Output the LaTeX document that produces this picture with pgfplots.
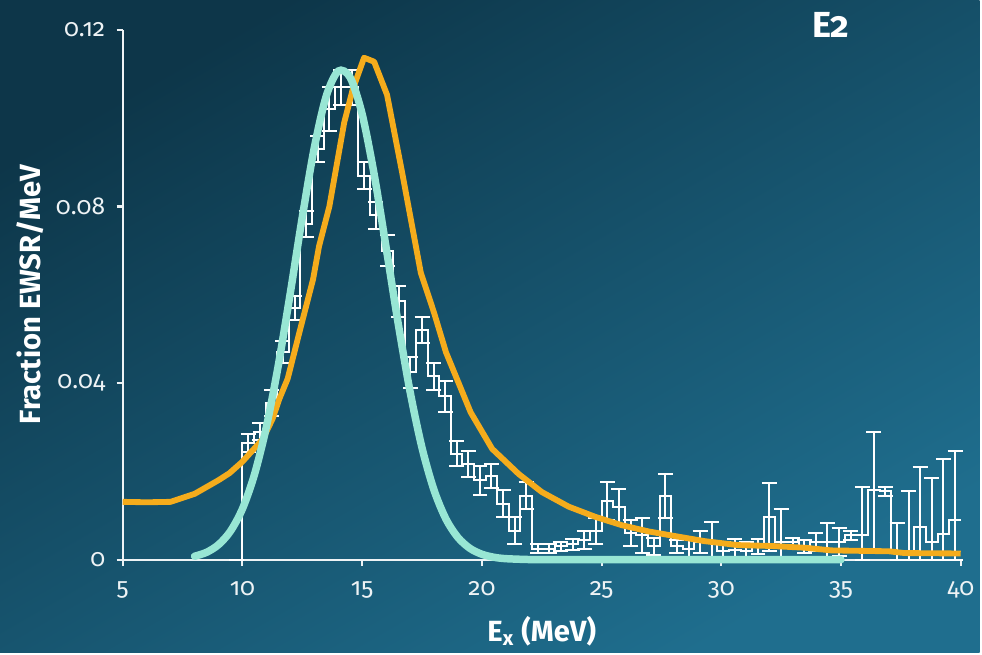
\documentclass[border=0pt]{standalone}
\usepackage{fontspec}
\setmainfont{Fira Sans}[Numbers=OldStyle]
\usepackage{pgfplots}
\pgfplotsset{compat=1.18}
\usepackage{pgfplotstable}
\definecolor{bgA}{HTML}{0D3649}
\definecolor{bgB}{HTML}{1F6E8E}
\definecolor{mint}{HTML}{98E6D4}
\definecolor{gold}{HTML}{F5AC1C}
\definecolor{tickc}{HTML}{EEF3F5}

% histogram: left bin edge, value, upper error, lower error
\pgfplotstableread{
x y e em
9.52 0 0 0
10.00 0.0265 0.0020 0.0020
10.48 0.0290 0.0020 0.0020
10.97 0.0355 0.0030 0.0030
11.45 0.0470 0.0025 0.0025
11.94 0.0570 0.0028 0.0028
12.42 0.0760 0.0030 0.0030
12.90 0.0930 0.0030 0.0030
13.39 0.1020 0.0050 0.0050
13.87 0.1070 0.0040 0.0040
14.35 0.1070 0.0040 0.0040
14.84 0.0870 0.0030 0.0030
15.32 0.0780 0.0030 0.0030
15.81 0.0700 0.0035 0.0035
16.29 0.0585 0.0035 0.0035
16.77 0.0425 0.0035 0.0035
17.26 0.0520 0.0030 0.0030
17.74 0.0415 0.0030 0.0030
18.23 0.0370 0.0035 0.0035
18.71 0.0240 0.0028 0.0028
19.19 0.0217 0.0030 0.0030
19.68 0.0180 0.0033 0.0033
20.16 0.0190 0.0027 0.0027
20.65 0.0127 0.0030 0.0030
21.13 0.0066 0.0030 0.0030
21.61 0.0145 0.0030 0.0030
22.10 0.0025 0.0010 0.0010
22.58 0.0025 0.0010 0.0010
23.06 0.0030 0.0010 0.0010
23.55 0.0035 0.0012 0.0012
24.03 0.0045 0.0020 0.0020
24.52 0.0065 0.0030 0.0030
25.00 0.0133 0.0043 0.0043
25.48 0.0120 0.0040 0.0040
25.97 0.0060 0.0030 0.0030
26.45 0.0055 0.0040 0.0040
26.94 0.0030 0.0020 0.0020
27.42 0.0145 0.0050 0.0050
27.90 0.0030 0.0015 0.0015
28.39 0.0025 0.0025 0.0025
28.87 0.0040 0.0025 0.0025
29.35 0.0040 0.0045 0.0040
29.84 0.0020 0.0020 0.0020
30.32 0.0023 0.0024 0.0023
30.81 0.0020 0.0020 0.0020
31.29 0.0030 0.0017 0.0017
31.77 0.0097 0.0077 0.0077
32.26 0.0040 0.0074 0.0040
32.74 0.0040 0.0010 0.0010
33.23 0.0030 0.0015 0.0015
33.71 0.0040 0.0020 0.0020
34.19 0.0040 0.0044 0.0040
34.68 0.0040 0.0032 0.0032
35.16 0.0055 0.0011 0.0011
35.65 0.0055 0.0110 0.0055
36.13 0.0157 0.0132 0.0132
36.61 0.0155 0.0010 0.0010
37.10 0.0020 0.0064 0.0020
37.58 0.0020 0.0136 0.0020
38.06 0.0074 0.0136 0.0074
38.55 0.0040 0.0145 0.0040
39.03 0.0059 0.0170 0.0059
39.52 0.0089 0.0157 0.0089
40.00 0.0089 0 0
}\hist

\begin{document}
\begin{tikzpicture}
\shade[top color=bgA, bottom color=bgB, shading angle=30] (0,0) rectangle (14.73,9.81);
\begin{axis}[
  at={(1.845cm,1.395cm)}, anchor=south west,
  scale only axis, width=12.6cm, height=7.965cm,
  xmin=5, xmax=40, ymin=0, ymax=0.12,
  clip=false,
  axis lines*=left,
  axis line style={tickc, line width=0.9pt},
  every tick/.style={tickc, line width=0.9pt},
  tick align=outside, major tick length=0.09cm,
  xtick={5,10,...,40},
  ytick={0,0.04,0.08,0.12},
  yticklabels={0,0.04,0.08,0.12},
  scaled y ticks=false,
  /pgf/number format/assume math mode=true,
  ticklabel style={font=\fontsize{10.5}{12}\selectfont, text=tickc},
  xticklabel style={yshift=-0.12cm},
  yticklabel style={xshift=-0.05cm},
  xlabel={E\textsubscript{x} (MeV)},
  ylabel={Fraction EWSR/MeV},
  label style={font=\bfseries\fontsize{12.5}{15}\selectfont, text=white},
  xlabel style={at={(axis description cs:0.5,-0.1356)}, anchor=center},
  ylabel style={at={(axis description cs:-0.1107,0.501)}, anchor=center, rotate=0},
]
% histogram outline
\addplot[draw=white, line width=0.85pt, mark=none, const plot] table[x=x, y=y] {\hist};
% error bars at bin centres
\addplot[draw=none, mark=none, forget plot, restrict x to domain=9:39.99,
  error bars/.cd, y dir=both, y explicit,
  error bar style={draw=white, line width=0.85pt},
  error mark=-,
  error mark options={rotate=90, draw=white, line width=0.85pt, mark size=3.2pt}]
  table[x expr=\thisrow{x}+0.242, y=y, y error plus=e, y error minus=em] {\hist};
% orange model curve
\addplot[gold, line width=2.5pt, line join=round] coordinates {
(5,0.0131) (6,0.0130) (7,0.0131) (8,0.0149) (9,0.0180) (9.46,0.0196) (10,0.0222)
(10.85,0.0273) (11.26,0.0319) (11.54,0.0364) (11.89,0.0410) (12.38,0.0515)
(12.95,0.0635) (13.2,0.0710) (13.63,0.0800) (14.25,0.0990) (14.6,0.1064)
(15.08,0.1137) (15.5,0.1128) (16.04,0.1053) (16.67,0.0877) (17.45,0.0650)
(18.0,0.0560) (18.5,0.0470) (19.53,0.0334) (20.43,0.0251) (21.54,0.0194)
(22.51,0.0153) (23.63,0.0120) (24.74,0.0097) (25.85,0.0078) (26.96,0.0064)
(27.9,0.0055) (29.3,0.0042) (30.7,0.0033) (32.1,0.0031) (33.5,0.0027)
(34.6,0.0021) (37,0.0019) (37.65,0.0015) (40,0.0014)
};
% mint gaussian curve
\addplot[mint, line width=3.2pt, line cap=round, smooth] coordinates {
(8,0.00077) (8.5,0.00166) (9,0.00339) (9.5,0.00645) (10,0.01151) (10.5,0.01924)
(11,0.03008) (11.5,0.04407) (12,0.06043) (12.5,0.07759) (13,0.09327) (13.5,0.10500)
(14,0.11067) (14.5,0.10923) (15,0.10093) (15.5,0.08733) (16,0.07075) (16.5,0.05368)
(17,0.03812) (17.5,0.02535) (18,0.01579) (18.5,0.00920) (19,0.00503) (19.5,0.00257)
(20,0.00123) (20.5,0.00055) (21,0.00023) (22,0.00003) (23,0) (35,0)
};
\end{axis}
\node[font=\bfseries\fontsize{15.5}{18}\selectfont, text=white] at (12.495,9.435) {E2};
\end{tikzpicture}
\end{document}
